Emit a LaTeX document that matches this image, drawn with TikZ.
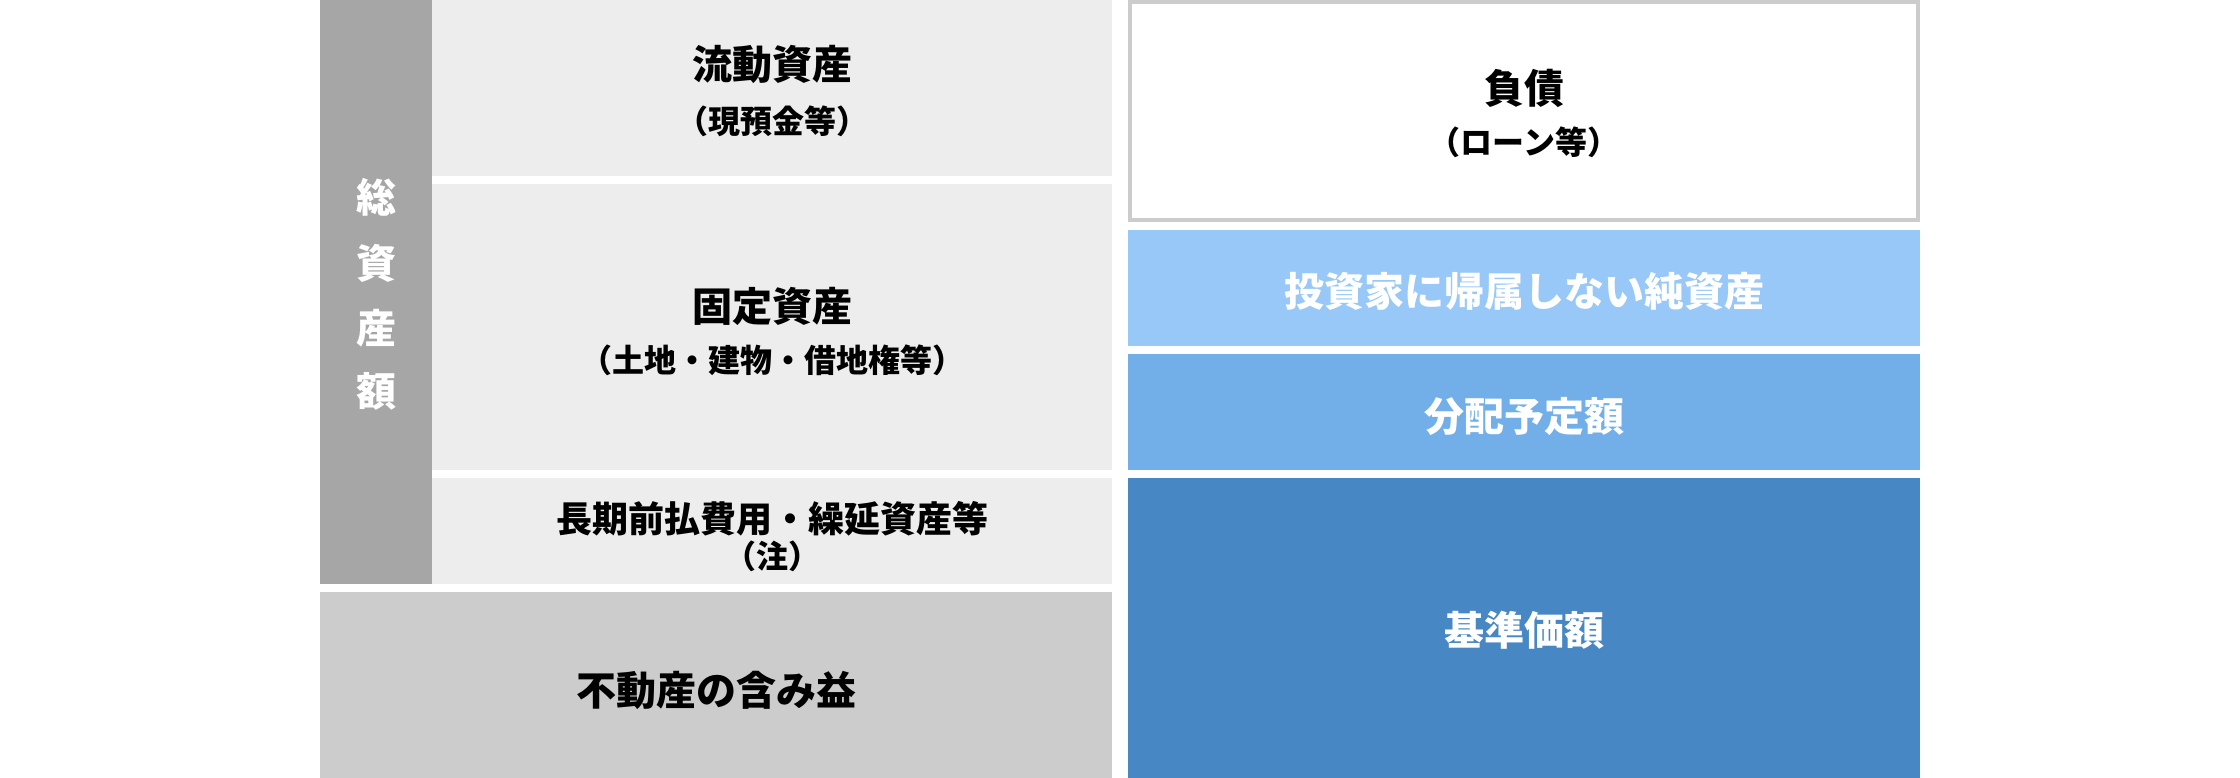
\documentclass[tikz,border=0pt]{standalone}
\usepackage{fontspec}
\setmainfont{Noto Sans CJK JP}
\definecolor{lightgray}{HTML}{EDEDED}
\definecolor{colgray}{HTML}{A6A6A6}
\definecolor{midgray}{HTML}{CCCCCC}
\definecolor{lblue}{HTML}{97C8F7}
\definecolor{mblue}{HTML}{72AFE8}
\definecolor{dblue}{HTML}{4787C4}
\tikzset{
  box/.style={draw=none, inner sep=0pt, outer sep=0pt, anchor=north west},
  maintxt/.style={anchor=base, inner sep=0pt, font=\fontsize{40}{48}\selectfont\bfseries},
  midtxt/.style={anchor=base, inner sep=0pt, font=\fontsize{36}{44}\selectfont\bfseries},
  subtxt/.style={anchor=base, inner sep=0pt, font=\fontsize{32}{40}\selectfont\bfseries},
}
\begin{document}
\begin{tikzpicture}[x=1pt,y=-1pt]
\useasboundingbox[fill=white] (0,0) rectangle (2240,778);
% left side
\node[box, fill=colgray, minimum width=112pt, minimum height=584pt] (col) at (320,0) {};
\node[box, fill=lightgray, minimum width=680pt, minimum height=176pt] (ca) at (432,0) {};
\node[box, fill=lightgray, minimum width=680pt, minimum height=286pt] (fa) at (432,184) {};
\node[box, fill=lightgray, minimum width=680pt, minimum height=106pt] (lt) at (432,478) {};
\node[box, fill=midgray, minimum width=792pt, minimum height=186pt] (ug) at (320,592) {};
% right side
\node[box, fill=white, draw=midgray, line width=4pt, minimum width=788pt, minimum height=218pt] (li) at (1130,2) {};
\node[box, fill=lblue, minimum width=792pt, minimum height=116pt] (nc) at (1128,230) {};
\node[box, fill=mblue, minimum width=792pt, minimum height=116pt] (dp) at (1128,354) {};
\node[box, fill=dblue, minimum width=792pt, minimum height=300pt] (nav) at (1128,478) {};
% vertical label
\node[maintxt, text=white] (c1) at (376,213) {総};
\node[maintxt, text=white] (c2) at (376,278) {資};
\node[maintxt, text=white] (c3) at (376,343) {産};
\node[maintxt, text=white] (c4) at (376,406) {額};
% texts
\node[maintxt] (cat) at (772,80) {流動資産};
\node[subtxt] (cas) at (772,134) {（現預金等）};
\node[maintxt] (fat) at (772,321) {固定資産};
\node[subtxt] (fas) at (772,372) {（土地・建物・借地権等）};
\node[midtxt] (ltt) at (772,532) {長期前払費用・繰延資産等};
\node[subtxt] (lts) at (772,568) {（注）};
\node[maintxt] (ugt) at (716,705) {不動産の含み益};
\node[maintxt] (lit) at (1524,104) {負債};
\node[subtxt] (lis) at (1524,155) {（ローン等）};
\node[maintxt, text=white] (nct) at (1524,306) {投資家に帰属しない純資産};
\node[maintxt, text=white] (dpt) at (1524,431) {分配予定額};
\node[maintxt, text=white] (navt) at (1524,645) {基準価額};
\end{tikzpicture}
\end{document}
